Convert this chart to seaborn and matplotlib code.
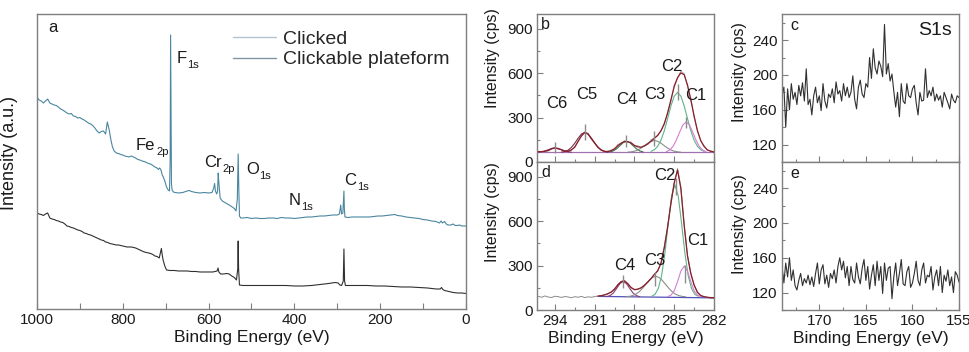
import numpy as np
import matplotlib
matplotlib.use("Agg")
import matplotlib.pyplot as plt
import seaborn as sns
from matplotlib.lines import Line2D
from matplotlib.ticker import MultipleLocator

sns.set_theme(style="white")
plt.rcParams["font.family"] = ["Liberation Sans", "DejaVu Sans"]

# ---------------- Panel a : survey spectra (arbitrary units) ----------------
clicked_energy = [1000, 995, 990, 985, 980, 975, 970, 965, 960, 955, 950, 945, 940, 935, 930, 925, 920, 915,
                  910, 905, 900, 895, 890, 885, 880, 875, 870, 865, 860, 855, 850, 845, 840, 836, 832, 828,
                  824, 820, 815, 810, 805, 800, 795, 790, 785, 780, 775, 770, 765, 760, 755, 750, 745, 740,
                  735, 730, 725, 720, 717, 714, 711, 708, 705, 702, 698, 694, 691, 689.5, 688.5, 687.5,
                  686.5, 685, 682, 678, 670, 660, 650, 645, 640, 630, 620, 610, 600, 592, 588, 586, 584,
                  581, 579, 577.5, 576, 573, 568, 562, 556, 550, 545, 540, 536, 533, 531, 529.5, 528, 525,
                  520, 510, 500, 490, 480, 470, 460, 450, 440, 430, 420, 410, 400, 390, 380, 370, 360, 350,
                  340, 330, 320, 310, 300, 295, 292, 290, 287, 285.5, 284.5, 283.5, 282, 275, 265, 255, 245,
                  235, 225, 215, 205, 195, 185, 175, 166, 160, 150, 140, 130, 120, 110, 100, 90, 80, 70, 62,
                  58, 55, 50, 46, 42, 35, 30, 25, 20, 15, 10, 5, 0]
clicked_intensity = [212, 209, 208, 206, 208, 210, 206, 205, 204, 203.5, 202, 200, 199, 197.5, 196, 195, 195.5,
                     193, 192.5, 191, 191.5, 190, 189, 187.5, 186, 185, 183.5, 181, 178, 176, 177.5, 178, 175,
                     187, 180, 170, 162, 158, 156, 155.5, 154.5, 154, 153, 152.5, 152, 153, 152, 151, 149.5,
                     149, 148, 147.5, 146.5, 145.5, 145, 143.5, 142, 141, 139.5, 141, 139, 134, 131.5, 128,
                     122, 119, 118, 150, 274, 200, 125, 119, 117, 116.5, 116, 116.5, 118, 118.5, 117.5, 116.5,
                     116, 116.5, 116, 116.5, 121, 125.5, 118, 115, 118, 136, 126, 111, 108, 106.5, 105, 103.5,
                     102, 100.5, 98, 110, 155, 120, 93, 91, 91, 91.5, 90.5, 91, 90.5, 90.5, 91, 91, 90.5, 91.5,
                     91, 91, 90.5, 91, 91.5, 92, 92, 92.5, 93, 93, 93.5, 94, 94, 95, 104, 95, 96, 110, 118, 100,
                     92, 91.5, 92, 92, 92, 92, 92, 92.5, 93, 93, 93.5, 94, 94.5, 93.5, 93, 92, 91.5, 91, 90.5,
                     89.5, 89, 88, 87.5, 86, 88, 86, 87.5, 85, 84, 84, 85, 83.5, 83.5, 84, 83, 83, 83]

platform_energy = [1000, 995, 990, 985, 980, 975, 970, 965, 960, 955, 950, 945, 940, 935, 930, 925, 920, 915,
                   910, 905, 900, 895, 890, 885, 880, 875, 870, 865, 860, 855, 850, 845, 840, 835, 830, 825,
                   820, 815, 810, 805, 800, 795, 790, 785, 780, 775, 770, 765, 760, 755, 750, 745, 740, 735,
                   730, 725, 720, 715, 712, 710, 708, 706, 702, 698, 690, 680, 670, 660, 650, 640, 630, 620,
                   610, 600, 590, 585, 580, 578, 576, 572, 565, 558, 552, 546, 540, 535, 532, 531, 530, 528,
                   520, 500, 480, 460, 440, 420, 400, 380, 360, 340, 320, 305, 298, 294, 290, 286, 284.5, 283,
                   281, 270, 250, 230, 210, 190, 170, 150, 130, 110, 90, 80, 70, 60, 57, 54, 50, 40, 30, 20,
                   10, 0]
platform_intensity = [96, 95, 94.5, 93.5, 95, 96, 91, 90, 89.5, 88.5, 88, 87, 86.5, 85, 83, 82.5, 81.5, 81, 80,
                      79, 78.5, 77.5, 76, 75.5, 74.5, 74, 73, 72, 71, 70, 69, 68.5, 67, 66.5, 65.5, 65, 64.5,
                      64, 64, 63.5, 63, 62.5, 62, 62, 62, 61.5, 61, 60, 59, 58, 57, 56.5, 56, 55.5, 54.5, 53,
                      52.5, 51, 57, 60.5, 54, 49, 43, 39, 38.5, 38.5, 38, 38, 38, 37.5, 37.5, 37, 37, 37, 37,
                      37.5, 38, 41, 37, 35, 35, 35.5, 35, 33, 31.5, 29, 40, 68, 40, 24, 23.5, 23.5, 23.5, 23.5,
                      23.5, 23.5, 23, 23, 23.5, 24.5, 25.5, 26.5, 26, 24, 23.5, 28, 60, 28, 23.5, 23.5, 23.5,
                      23.5, 23, 23, 22.5, 22, 22, 21.5, 21, 20.5, 20, 20, 21.5, 19.5, 18.5, 17.5, 16.5, 16, 16,
                      15.5]

survey_tick_labels = ["1000", "800", "600", "400", "200", "0"]
survey_peak_main = ["F", "Fe", "Cr", "O", "N", "C"]
survey_peak_sub = ["1s", "2p", "2p", "1s", "1s", "1s"]
survey_peak_energy = [674, 769, 611, 513, 413, 284]
survey_peak_level = [246, 159, 142, 135, 104, 124]
legend_labels = ["Clicked", "Clickable plateform"]

# ---------------- Panel b : C1s, clicked ----------------
b_raw = [72, 66, 75, 74, 92, 97, 86, 84, 70, 76, 80, 104, 136, 182, 194, 196, 152, 130, 96, 84, 70, 74, 82,
         88, 120, 122, 145, 132, 135, 108, 110, 96, 112, 118, 150, 162, 176, 214, 252, 336, 412, 520, 566, 615,
         596, 512, 430, 302, 216, 140, 110, 78, 76, 70]
b_envelope = [70, 70, 72, 78, 88, 95, 90, 82, 74, 72, 82, 100, 140, 175, 200, 188, 160, 128, 100, 80, 72, 70,
              76, 90, 110, 128, 138, 138, 128, 112, 102, 100, 108, 122, 140, 160, 180, 210, 260, 330, 420, 510,
              570, 602, 590, 520, 420, 310, 210, 145, 105, 82, 72, 68]
b_baseline_x = [295.3, 282.0]
b_baseline = [65, 65]
b_c6_x = [295.25, 295.0, 294.75, 294.5, 294.25, 294.0, 293.75, 293.5, 293.25, 293.0, 292.75]
b_c6 = [66, 69, 75, 83, 91.5, 95, 91.5, 83, 75, 69, 66]
b_c5_x = [293.5, 293.25, 293.0, 292.75, 292.5, 292.25, 292.0, 291.75, 291.5, 291.25, 291.0, 290.75, 290.5,
          290.25, 290.0]
b_c5 = [67, 71, 80, 99, 127, 160, 189, 200, 189, 160, 127, 99, 80, 71, 67]
b_c4_x = [289.85, 289.6, 289.35, 289.1, 288.85, 288.6, 288.35, 288.1, 287.85, 287.6, 287.35]
b_c4 = [68, 75, 89, 110, 131, 140, 131, 110, 89, 75, 68]
b_c3_x = [288.5, 288.25, 288.0, 287.75, 287.5, 287.25, 287.0, 286.75, 286.5, 286.25, 286.0, 285.75, 285.5,
          285.25, 285.0, 284.75, 284.5]
b_c3 = [66, 68.5, 73, 81, 94, 110, 127, 140, 145, 140, 127, 110, 94, 81, 73, 68.5, 66]
b_c2_x = [286.75, 286.5, 286.25, 286.0, 285.75, 285.5, 285.25, 285.0, 284.75, 284.5, 284.25, 284.0, 283.75,
          283.5, 283.25, 283.0, 282.75]
b_c2 = [72, 83, 106, 147, 211, 293, 379, 445, 470, 445, 379, 293, 211, 147, 106, 83, 72]
b_c1_x = [285.6, 285.35, 285.1, 284.85, 284.6, 284.35, 284.1, 283.85, 283.6, 283.35, 283.1, 282.85, 282.6]
b_c1 = [70, 80, 104, 146, 200, 250, 270, 250, 200, 146, 104, 80, 70]
b_labels = ["C6", "C5", "C4", "C3", "C2", "C1"]
b_label_x = [293.87, 291.6, 288.6, 286.5, 285.2, 283.35]
b_label_y = [362, 423, 389, 423, 617, 416]
b_marker_x = [294.0, 291.75, 288.6, 286.5, 284.75, 284.1]
b_marker_lo = [60, 150, 100, 110, 420, 230]
b_marker_hi = [135, 260, 185, 210, 530, 305]

# ---------------- Panel d : C1s, platform ----------------
d_raw = [92, 86, 95, 88, 84, 93, 90, 85, 91, 88, 83, 90, 86, 92, 84, 89, 86, 91, 94, 97, 103, 110, 120, 140,
         172, 192, 200, 176, 150, 136, 142, 150, 168, 190, 212, 242, 262, 318, 430, 560, 720, 860, 955, 830,
         580, 370, 250, 170, 118, 96, 90, 86, 80, 84]
d_envelope = [94, 97, 102, 110, 122, 142, 170, 192, 196, 178, 152, 138, 140, 150, 166, 188, 212, 240, 265,
              315, 420, 560, 720, 860, 945, 820, 570, 365, 245, 168, 120, 98, 90, 86, 84, 82]
d_baseline_x = [290.75, 282.0]
d_baseline = [92, 82]
d_c4_x = [290.1, 289.85, 289.6, 289.35, 289.1, 288.85, 288.6, 288.35, 288.1, 287.85, 287.6]
d_c4 = [90, 97, 114, 145, 178, 193, 178, 145, 114, 97, 90]
d_c3_x = [288.65, 288.4, 288.15, 287.9, 287.65, 287.4, 287.15, 286.9, 286.65, 286.4, 286.15, 285.9, 285.65,
          285.4, 285.15, 284.9, 284.65, 284.4, 284.15]
d_c3 = [89.5, 92, 97, 107, 123, 146, 173, 200, 220, 228, 220, 200, 173, 146, 123, 107, 97, 92, 89.5]
d_c2_x = [286.7, 286.45, 286.2, 285.95, 285.7, 285.45, 285.2, 284.95, 284.7, 284.45, 284.2, 283.95, 283.7,
          283.45, 283.2]
d_c2 = [92.5, 106, 146, 233, 387, 588, 771, 845, 771, 588, 387, 233, 146, 106, 92.5]
d_c1_x = [285.5, 285.25, 285.0, 284.75, 284.5, 284.25, 284.0, 283.75, 283.5, 283.25, 283.0]
d_c1 = [90.5, 100, 130, 191, 263, 297, 263, 191, 130, 100, 90.5]
d_labels = ["C4", "C3", "C2", "C1"]
d_label_x = [288.7, 286.5, 285.7, 283.2]
d_label_y = [270, 304, 879, 439]
d_marker_x = [288.85, 286.45, 284.9, 284.2]
d_marker_lo = [150, 160, 780, 180]
d_marker_hi = [235, 260, 890, 305]

# ---------------- Panels c / e : S1s ----------------
c_counts = [178, 186, 140, 184, 160, 190, 172, 180, 166, 188, 176, 191, 170, 207, 166, 172, 154, 176, 186, 168,
            176, 159, 190, 170, 162, 178, 174, 184, 168, 192, 178, 182, 170, 190, 176, 186, 174, 180, 199, 172,
            161, 186, 194, 178, 174, 190, 186, 220, 196, 230, 208, 201, 216, 210, 198, 258, 201, 213, 193, 201,
            181, 163, 180, 152, 190, 170, 167, 190, 176, 174, 184, 188, 168, 154, 180, 170, 171, 207, 174, 182,
            176, 186, 170, 178, 171, 176, 163, 180, 174, 168, 161, 178, 171, 168, 176, 174]
e_counts = [150, 131, 154, 138, 160, 134, 146, 128, 123, 134, 142, 128, 136, 131, 140, 129, 138, 127, 142, 154,
            130, 146, 152, 130, 140, 126, 142, 136, 146, 131, 150, 160, 146, 156, 137, 150, 128, 150, 135, 131,
            154, 138, 130, 148, 158, 134, 150, 124, 140, 152, 128, 156, 134, 150, 119, 154, 134, 148, 150, 113,
            138, 154, 128, 142, 158, 130, 128, 144, 150, 126, 131, 142, 156, 134, 128, 146, 154, 131, 140, 138,
            150, 123, 138, 146, 128, 150, 120, 140, 133, 146, 128, 138, 120, 144, 140, 132]

# energy grids of the recorded scans
b_energy = np.linspace(295.25, 282.0, len(b_raw))
d_energy = np.linspace(295.25, 282.0, len(d_raw))
d_env_energy = np.linspace(290.75, 282.0, len(d_envelope))
c_energy = np.linspace(174.0, 155.0, len(c_counts))
e_energy = np.linspace(174.0, 155.0, len(e_counts))

# ---------------- Figure ----------------
fig = plt.figure(figsize=(9.7, 3.52), dpi=100)
ax_a = fig.add_axes([0.0381, 0.1222, 0.4423, 0.838])
ax_b = fig.add_axes([0.5536, 0.5398, 0.1825, 0.4205])
ax_d = fig.add_axes([0.5536, 0.1193, 0.1825, 0.4205])
ax_c = fig.add_axes([0.8062, 0.5398, 0.1825, 0.4205])
ax_e = fig.add_axes([0.8062, 0.1193, 0.1825, 0.4205])

SPINE = "#7f7f7f"
TXT = "#1a1a1a"


def line(ax, x, y, color, lw=0.8, z=2):
    sns.lineplot(x=list(x), y=list(y), ax=ax, color=color, linewidth=lw, estimator=None,
                 sort=False, legend=False, zorder=z)


def style(ax):
    for s in ax.spines.values():
        s.set_visible(True)
        s.set_color(SPINE)
        s.set_linewidth(1.0)
    ax.tick_params(which="both", direction="in", bottom=True, left=True, top=False, right=False,
                   colors=SPINE, labelcolor=TXT, labelsize=11, width=0.8)
    ax.tick_params(which="major", length=4, pad=3)
    ax.tick_params(which="minor", length=2.5)
    ax.set_xlabel("")
    ax.set_ylabel("")


# Panel a
line(ax_a, platform_energy, platform_intensity, "#303030", lw=0.8)
line(ax_a, clicked_energy, clicked_intensity, "#4a86a0", lw=0.8)
style(ax_a)
ax_a.set_xlim(1000, 0)
ax_a.set_ylim(0, 295)
ax_a.set_yticks([])
ax_a.set_xticks([1000, 800, 600, 400, 200, 0])
ax_a.set_xticklabels(survey_tick_labels)
ax_a.xaxis.set_minor_locator(MultipleLocator(100))
ax_a.tick_params(which="minor", length=4)
ax_a.set_xlabel("Binding Energy (eV)", fontsize=12.5, color=TXT, labelpad=2)
ax_a.set_ylabel("Intensity (a.u.)", fontsize=13, color=TXT)
ax_a.yaxis.set_label_coords(-0.044, 0.53)
ax_a.text(0.026, 0.953, "a", transform=ax_a.transAxes, fontsize=12, color=TXT, va="center")
handles = [Line2D([], [], color="#b4c4ce", lw=1.0), Line2D([], [], color="#7f95a2", lw=1.0)]
ax_a.legend(handles, legend_labels, loc="upper left", bbox_to_anchor=(0.457, 0.945), frameon=False,
            fontsize=14, handlelength=2.2, handletextpad=0.35, labelspacing=0.15, borderpad=0,
            borderaxespad=0)

# Panel b
line(ax_b, b_baseline_x, b_baseline, "#a070b0", lw=0.9)
line(ax_b, b_energy, b_raw, "#a8a8a8", lw=0.7)
line(ax_b, b_c6_x, b_c6, "#8a3b78", lw=0.8)
line(ax_b, b_c5_x, b_c5, "#7a2f4f", lw=0.8)
line(ax_b, b_c4_x, b_c4, "#3e6e4a", lw=0.8)
line(ax_b, b_c3_x, b_c3, "#8c8c8c", lw=0.8)
line(ax_b, b_c2_x, b_c2, "#5fb38a", lw=0.8)
line(ax_b, b_c1_x, b_c1, "#d37fd3", lw=0.8)
line(ax_b, b_energy, b_envelope, "#8b1e2a", lw=0.9, z=3)
ax_b.vlines(b_marker_x, b_marker_lo, b_marker_hi, color="#8c8c8c", lw=1.0, zorder=4)
style(ax_b)
ax_b.set_xlim(295.35, 282)
ax_b.set_ylim(0, 1000)
ax_b.set_yticks([0, 300, 600, 900])
ax_b.yaxis.set_minor_locator(MultipleLocator(150))
ax_b.set_xticks([294, 291, 288, 285, 282])
ax_b.xaxis.set_minor_locator(MultipleLocator(1.5))
ax_b.tick_params(labelbottom=False)
ax_b.set_ylabel("Intensity (cps)", fontsize=11.5, color=TXT)
ax_b.yaxis.set_label_coords(-0.21, 0.70)
ax_b.text(0.025, 0.93, "b", transform=ax_b.transAxes, fontsize=11.5, color=TXT, va="center")
for lab, lx, ly in zip(b_labels, b_label_x, b_label_y):
    ax_b.text(lx, ly, lab, fontsize=12, color=TXT, ha="center", va="baseline", zorder=5)

# Panel d
line(ax_d, d_baseline_x, d_baseline, "#5050b8", lw=0.9)
line(ax_d, d_energy, d_raw, "#8a8a8a", lw=0.7)
line(ax_d, d_c4_x, d_c4, "#8a3b78", lw=0.8)
line(ax_d, d_c3_x, d_c3, "#8c8c8c", lw=0.8)
line(ax_d, d_c2_x, d_c2, "#5fb38a", lw=0.8)
line(ax_d, d_c1_x, d_c1, "#d37fd3", lw=0.8)
line(ax_d, d_env_energy, d_envelope, "#8b1e2a", lw=0.9, z=3)
ax_d.vlines(d_marker_x, d_marker_lo, d_marker_hi, color="#8c8c8c", lw=1.0, zorder=4)
style(ax_d)
ax_d.set_xlim(295.35, 282)
ax_d.set_ylim(0, 1000)
ax_d.set_yticks([0, 300, 600, 900])
ax_d.yaxis.set_minor_locator(MultipleLocator(150))
ax_d.set_xticks([294, 291, 288, 285, 282])
ax_d.xaxis.set_minor_locator(MultipleLocator(1.5))
ax_d.set_xlabel("Binding Energy (eV)", fontsize=12.5, color=TXT, labelpad=2)
ax_d.set_ylabel("Intensity (cps)", fontsize=11.5, color=TXT)
ax_d.yaxis.set_label_coords(-0.21, 0.66)
ax_d.text(0.025, 0.93, "d", transform=ax_d.transAxes, fontsize=11.5, color=TXT, va="center")
for lab, lx, ly in zip(d_labels, d_label_x, d_label_y):
    ax_d.text(lx, ly, lab, fontsize=12, color=TXT, ha="center", va="baseline", zorder=5)

# Panels c / e
line(ax_c, c_energy, c_counts, "#303030", lw=0.8)
line(ax_e, e_energy, e_counts, "#303030", lw=0.8)
for ax, tag, ly in ((ax_c, "c", 0.61), (ax_e, "e", 0.58)):
    style(ax)
    ax.set_xlim(174, 155)
    ax.set_ylim(100, 270)
    ax.set_yticks([120, 160, 200, 240])
    ax.yaxis.set_minor_locator(MultipleLocator(20))
    ax.set_xticks([170, 165, 160, 155])
    ax.xaxis.set_minor_locator(MultipleLocator(2.5))
    ax.set_ylabel("Intensity (cps)", fontsize=11.5, color=TXT)
    ax.yaxis.set_label_coords(-0.20, ly)
    ax.text(0.045, 0.92, tag, transform=ax.transAxes, fontsize=11.5, color=TXT, va="center")
ax_c.tick_params(labelbottom=False)
ax_c.text(0.864, 0.885, "S1s", transform=ax_c.transAxes, fontsize=14, color=TXT, ha="center", va="center")
ax_e.set_xlabel("Binding Energy (eV)", fontsize=12.5, color=TXT, labelpad=2)

# Peak labels of the survey with small, low subscripts
renderer = fig.canvas.get_renderer()
for main, sub, ex, lv in zip(survey_peak_main, survey_peak_sub, survey_peak_energy, survey_peak_level):
    t = ax_a.text(ex, lv, main, fontsize=12, color=TXT, ha="left", va="baseline")
    w = t.get_window_extent(renderer=renderer).width
    ax_a.annotate(sub, xy=(ex, lv), xycoords="data", xytext=(w + 0.5, -5), textcoords="offset pixels",
                  fontsize=8, color=TXT, ha="left", va="baseline")

fig.savefig("out.png", dpi=100)
